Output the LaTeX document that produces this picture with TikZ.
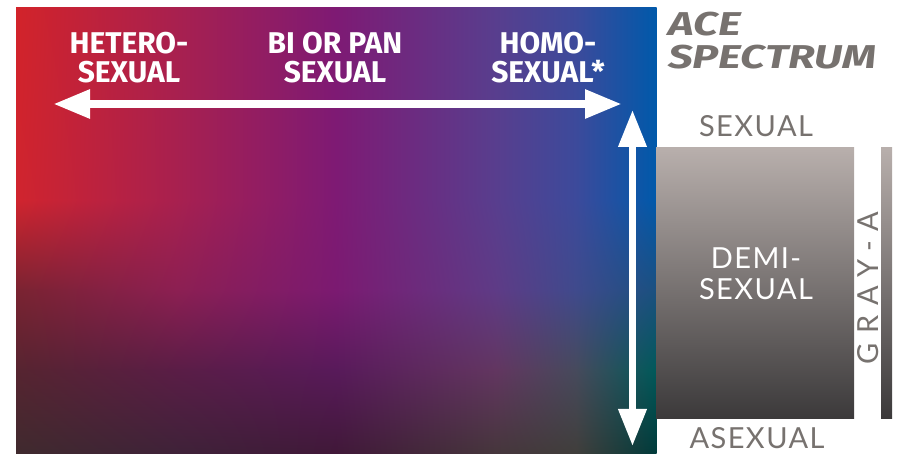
\documentclass[tikz,border=0pt]{standalone}
\usepackage{fontspec}
\setmainfont{Lato}
\newfontfamily\headfont{Fira Sans}
\newfontfamily\acefont{Fira Sans}[FakeStretch=1.33]
\newfontfamily\greyfont{Lato}[LetterSpace=5]
\newfontfamily\spacedfont{Lato}[LetterSpace=34]
\usetikzlibrary{arrows.meta,shadings}

% spectrum colours, row by row (top to bottom), column by column (left to right)
\definecolor{g00}{HTML}{D2232A}\definecolor{g01}{HTML}{A8204F}\definecolor{g02}{HTML}{7E1A74}
\definecolor{g03}{HTML}{583E8E}\definecolor{g04}{HTML}{3C4A9B}\definecolor{g05}{HTML}{0059AA}
\definecolor{g10}{HTML}{D0242E}\definecolor{g11}{HTML}{A8204F}\definecolor{g12}{HTML}{7E1A74}
\definecolor{g13}{HTML}{583E8E}\definecolor{g14}{HTML}{3C4A9B}\definecolor{g15}{HTML}{0059AA}
\definecolor{g20}{HTML}{7A2331}\definecolor{g21}{HTML}{8C1F52}\definecolor{g22}{HTML}{7B1A71}
\definecolor{g23}{HTML}{5E3B86}\definecolor{g24}{HTML}{3F4A8C}\definecolor{g25}{HTML}{1A5080}
\definecolor{g30}{HTML}{562430}\definecolor{g31}{HTML}{5A1D46}\definecolor{g32}{HTML}{581A5A}
\definecolor{g33}{HTML}{623660}\definecolor{g34}{HTML}{464A5C}\definecolor{g35}{HTML}{00595A}
\definecolor{g40}{HTML}{3F2A2E}\definecolor{g41}{HTML}{3E2238}\definecolor{g42}{HTML}{401838}
\definecolor{g43}{HTML}{45363B}\definecolor{g44}{HTML}{403E3B}\definecolor{g45}{HTML}{003A3A}

\definecolor{aceTop}{HTML}{B8AFAC}
\definecolor{aceBot}{HTML}{3B393A}
\definecolor{aceText}{HTML}{77726F}

\begin{document}
\begin{tikzpicture}[x=1pt, y=-1pt,
    bigarrow/.style={draw=white, line width=#1, arrows={Triangle[length=37pt,width=27pt]-Triangle[length=37pt,width=27pt]}},
    headtext/.style={white, inner sep=0pt, align=center, anchor=north, font=\headfont\bfseries\fontsize{30}{29.5}\selectfont},
    greytext/.style={text=aceText, inner sep=0pt, font=\greyfont\fontsize{29}{31}\selectfont}]
    \useasboundingbox (0,0) rectangle (898,454);

    % Spectrum background (patches with four corner colours)
    \foreach \r/\s/\ya/\yb in {0/1/8/200, 1/2/200/290, 2/3/290/370, 3/4/370/454}
      \foreach \c/\d/\xa/\xb in {0/1/16/176, 1/2/176/336, 2/3/336/496, 3/4/496/576, 4/5/576/656}
        \shade[upper left=g\r\c, upper right=g\r\d, lower left=g\s\c, lower right=g\s\d]
          (\xa,\ya) rectangle (\xb+0.6,\yb+0.6);

    % Ace boxes (grey gradient)
    \shade[top color=aceTop, bottom color=aceBot] (656,148) rectangle (854,419);
    \shade[top color=aceTop, bottom color=aceBot] (881,148) rectangle (892,419);

    % Arrow ends
    \coordinate (hetL) at (53,104);
    \coordinate (homR) at (622,104);
    \coordinate (sexTop) at (632.5,110);
    \coordinate (aseBot) at (632.5,446);

    \draw[bigarrow=8.5pt] (hetL) -- (homR);
    \draw[bigarrow=7pt] (sexTop) -- (aseBot);

    % Orientation labels
    \node[headtext] (hetero) at (129,32) {HETERO-\\SEXUAL};
    \node[headtext] (bipan) at (335,32) {BI OR PAN\\SEXUAL};
    \node[headtext] (homo) at (548,32) {HOMO-\\SEXUAL*};

    % Ace spectrum labels
    \node[text=aceText, inner sep=0pt, align=left, anchor=north west,
          font=\acefont\bfseries\itshape\fontsize{33}{33}\selectfont] (ace) at (668,12) {ACE\\SPECTRUM};
    \node[greytext, anchor=base] (sexual) at (756,137) {SEXUAL};
    \node[greytext, anchor=base] (asexual) at (757,448.5) {ASEXUAL};
    \node[greytext, white, align=center, anchor=north] (demi) at (756,248) {DEMI-\\SEXUAL};
    \node[greytext, rotate=90, font=\spacedfont\fontsize{29}{31}\selectfont] (graya) at (868,288) {GRAY-A};
\end{tikzpicture}
\end{document}
